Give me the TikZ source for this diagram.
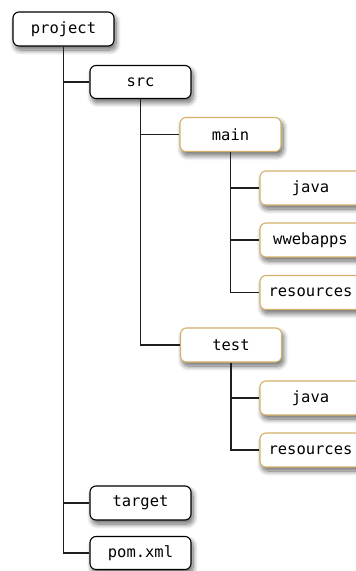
\documentclass[tikz,border=0pt]{standalone}
\usepackage{fontspec}
\setmonofont{DejaVu Sans Mono}
\usetikzlibrary{shadows.blur}
\definecolor{gold}{RGB}{214,176,104}
\definecolor{linec}{RGB}{30,30,30}
\tikzset{
  dirbox/.style={draw=black, line width=1.1pt, rounded corners=6pt, fill=white,
    minimum width=101pt, minimum height=34pt, inner sep=0pt,
    font=\fontsize{15.5}{17}\ttfamily,
    blur shadow={shadow xshift=2pt, shadow yshift=-4pt, shadow blur steps=10, shadow blur radius=5pt, shadow opacity=60}},
  goldbox/.style={dirbox, draw=gold},
  conn/.style={draw=linec, line width=1.3pt}
}
\begin{document}
\begin{tikzpicture}[x=1pt,y=-1pt]
\useasboundingbox (0,0) rectangle (356,571);
\node[dirbox] (project) at (63.5,29) {project};
\node[dirbox, minimum height=33pt] (src) at (140.5,82) {src};
\node[goldbox] (main) at (230.5,134.5) {main};
\node[goldbox] (java) at (310.5,188) {java};
\node[goldbox] (webapps) at (310.5,240) {wwebapps};
\node[goldbox] (resources) at (310.5,292.5) {resources};
\node[goldbox] (test) at (231,345) {test};
\node[goldbox] (java2) at (310.5,398) {java};
\node[goldbox] (resources2) at (310.5,450) {resources};
\node[dirbox] (target) at (140.5,503) {target};
\node[dirbox, minimum height=33pt] (pom) at (140.5,553) {pom.xml};
\draw[conn] (project.south) |- (src.west);
\draw[conn] (project.south) |- (target.west);
\draw[conn] (project.south) |- (pom.west);
\draw[conn] (src.south) |- (main.west);
\draw[conn] (src.south) |- (test.west);
\draw[conn] (main.south) |- (java.west);
\draw[conn] (main.south) |- (webapps.west);
\draw[conn] (main.south) |- (resources.west);
\draw[conn] (test.south) |- (java2.west);
\draw[conn] (test.south) |- (resources2.west);
\end{tikzpicture}
\end{document}
